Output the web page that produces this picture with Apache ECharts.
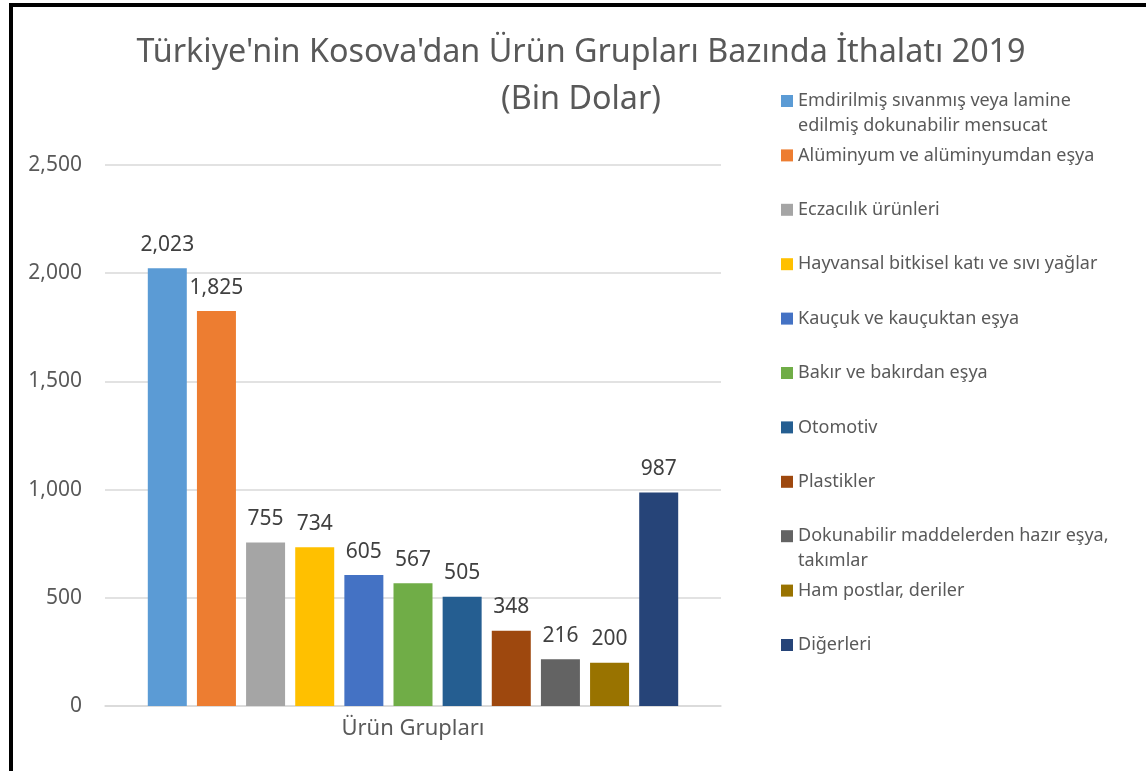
<!DOCTYPE html>
<html lang="tr">
	<head>
		<meta charset="UTF-8">
		<title>Türkiye'nin Kosova'dan İthalatı 2019</title>
		<script src="https://cdn.jsdelivr.net/npm/echarts@6/dist/echarts.min.js"></script>
		<style>
			html, body { margin: 0; padding: 0; background: #fff; }
			#frame {
				position: absolute; left: 9px; top: 3px; width: 1137px; height: 768px;
				border-left: 4px solid #000; border-top: 4px solid #000; box-sizing: border-box;
			}
			#bar { position: absolute; left: 0; top: 0; width: 1146px; height: 771px; }
		</style>
	</head>
	<body>
		<div id="frame"></div>
		<div id="bar"></div>
		<script type="text/javascript">
			// kategori ve seriler
			var categories = ['Ürün Grupları']
			var seriesNames = [
				'Emdirilmiş sıvanmış veya lamine edilmiş dokunabilir mensucat',
				'Alüminyum ve alüminyumdan eşya',
				'Eczacılık ürünleri',
				'Hayvansal bitkisel katı ve sıvı yağlar',
				'Kauçuk ve kauçuktan eşya',
				'Bakır ve bakırdan eşya',
				'Otomotiv',
				'Plastikler',
				'Dokunabilir maddelerden hazır eşya, takımlar',
				'Ham postlar, deriler',
				'Diğerleri'
			]
			// legend'da iki satıra bölünen adlar
			var legendLabels = [
				'Emdirilmiş sıvanmış veya lamine\nedilmiş dokunabilir mensucat',
				'Alüminyum ve alüminyumdan eşya',
				'Eczacılık ürünleri',
				'Hayvansal bitkisel katı ve sıvı yağlar',
				'Kauçuk ve kauçuktan eşya',
				'Bakır ve bakırdan eşya',
				'Otomotiv',
				'Plastikler',
				'Dokunabilir maddelerden hazır eşya,\ntakımlar',
				'Ham postlar, deriler',
				'Diğerleri'
			]
			var values = [2023, 1825, 755, 734, 605, 567, 505, 348, 216, 200, 987]
			var colors = ['#5B9BD5', '#ED7D31', '#A5A5A5', '#FFC000', '#4472C4', '#70AD47',
				'#255E91', '#9E480E', '#636363', '#997300', '#264478']
			var yTicks = [0, 500, 1000, 1500, 2000, 2500]

			var font = 'Noto Sans'
			var lineH = 25

			function fmt(v) {
				return Number(v).toLocaleString('en-US')
			}

			// iki satirlik öğede kare ilk satirin hizasinda dursun:
			// kutu 2 satir yüksekliginde, kare üst satirin ortasinda
			var wrapIcon = 'path://M0,0L0,0 M0,6.5L12,6.5L12,18.5L0,18.5Z M0,50L0,50'

			// her legend öğesi ayrı konumlanır (Excel düzeni)
			var legends = []
			for(var i = 0; i < seriesNames.length; i++) {
				var wrapped = legendLabels[i].indexOf('\n') >= 0
				var iconY = 101 + i * 54.4
				legends.push({
					data: [seriesNames[i]],
					orient: 'vertical',
					left: 781,
					top: iconY - lineH / 2,
					padding: 0,
					itemWidth: 12,
					itemHeight: wrapped ? lineH * 2 : 12,
					itemGap: 0,
					icon: wrapped ? wrapIcon : 'rect',
					selectedMode: false,
					formatter: (function(label) {
						return function() { return label }
					})(legendLabels[i]),
					textStyle: {
						fontFamily: font,
						fontSize: 18,
						color: '#595959',
						lineHeight: lineH
					}
				})
			}

			var series = seriesNames.map(function(name, i) {
				return {
					name: name,
					type: 'bar',
					barWidth: 39,
					barGap: '26%',
					itemStyle: { color: colors[i] },
					label: {
						show: true,
						position: 'top',
						distance: 13,
						fontFamily: font,
						fontSize: 21,
						color: '#404040',
						formatter: function(p) { return fmt(p.value) }
					},
					data: [values[i]]
				}
			})

			var myChart = echarts.init(document.getElementById('bar'))
			var option = {
				backgroundColor: 'transparent',
				animation: false,
				title: {
					text: "Türkiye'nin Kosova'dan Ürün Grupları Bazında İthalatı 2019\n(Bin Dolar)",
					left: 581,
					top: 29,
					padding: 0,
					textAlign: 'center',
					textStyle: {
						fontFamily: font,
						fontSize: 32.3,
						fontWeight: 'normal',
						color: '#595959',
						lineHeight: 47
					}
				},
				legend: legends,
				grid: {
					left: 105,
					right: 425,
					top: 165,
					bottom: 65
				},
				xAxis: {
					type: 'category',
					data: categories,
					axisTick: { show: false },
					axisLine: { lineStyle: { color: '#D9D9D9', width: 1.5 } },
					axisLabel: {
						margin: 12,
						fontFamily: font,
						fontSize: 22,
						color: '#595959'
					}
				},
				yAxis: {
					type: 'value',
					min: yTicks[0],
					max: yTicks[yTicks.length - 1],
					interval: 500,
					axisLine: { show: false },
					axisTick: { show: false },
					splitLine: { lineStyle: { color: '#D9D9D9', width: 1.5 } },
					axisLabel: {
						margin: 23,
						fontFamily: font,
						fontSize: 21,
						color: '#595959',
						formatter: function(v) { return fmt(v) }
					}
				},
				series: series
			}
			myChart.setOption(option)
		</script>
	</body>
</html>
